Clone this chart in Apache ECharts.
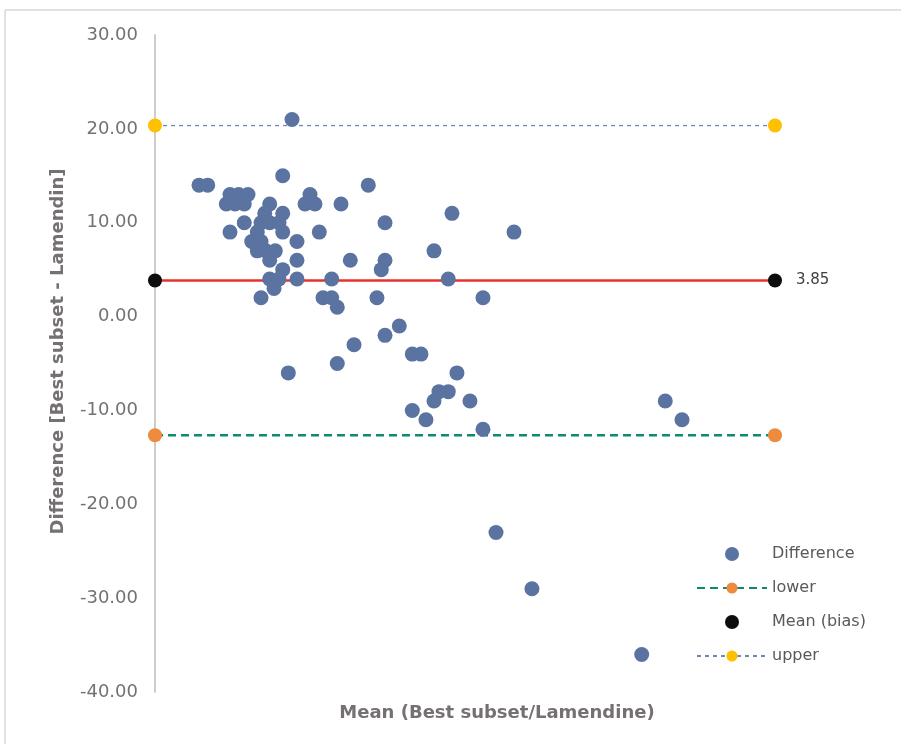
<!DOCTYPE html>
<html>
<head>
<meta charset="utf-8">
<script src="https://cdn.jsdelivr.net/npm/echarts@6/dist/echarts.min.js"></script>
<style>html,body{margin:0;padding:0;background:#fff;}#c{width:901px;height:744px;}</style>
</head>
<body>
<div id="c"></div>
<script>
// Mean of the two methods (arbitrary units along the unlabelled x axis)
var meanX = [22.1,7.1,8.5,20.6,34.4,12.1,13.5,15.0,25.0,11.5,12.9,14.4,18.5,24.2,25.8,30.0,17.7,20.6,47.9,14.4,17.1,18.5,20.0,37.1,12.1,16.5,20.6,26.5,57.9,15.6,17.1,22.9,16.5,17.9,19.4,45.0,18.5,22.9,31.5,37.1,20.6,36.5,18.5,20.0,22.9,28.5,47.3,19.2,17.1,27.1,28.5,35.8,52.9,29.4,39.4,37.1,32.1,41.5,42.9,29.4,21.5,48.7,45.8,47.3,45.0,50.8,82.3,41.5,43.7,85.0,52.9,55.0,60.8,78.5];
// Difference (Best subset - Lamendin)
var diffY = [21,14,14,15,14,13,13,13,13,12,12,12,12,12,12,12,11,11,11,10,10,10,10,10,9,9,9,9,9,8,8,8,7,7,7,7,6,6,6,6,5,5,4,4,4,4,4,3,2,2,2,2,2,1,-1,-2,-3,-4,-4,-5,-6,-6,-8,-8,-9,-9,-9,-10,-11,-11,-12,-23,-29,-36];
var xRange = [0, 100];
var bias = 3.85;
var lowerLoA = -12.65;
var upperLoA = 20.35;
var yTicks = [-40, -30, -20, -10, 0, 10, 20, 30];

var pts = meanX.map(function(x, i){ return [x, diffY[i]]; });
function hline(v){ return [[xRange[0], v],[xRange[1], v]]; }

var chart = echarts.init(document.getElementById('c'), null, {renderer:'canvas'});
var nameFont = '"DejaVu Sans", sans-serif';
chart.setOption({
  animation:false,
  backgroundColor:'#ffffff',
  grid:{left:155, right:126, top:35, bottom:52},
  graphic:[
    {type:'line', shape:{x1:5,y1:10,x2:5,y2:744}, style:{stroke:'#c9c2c2', lineWidth:1}},
    {type:'line', shape:{x1:5,y1:10,x2:901,y2:10}, style:{stroke:'#c9c2c2', lineWidth:1}}
  ],
  xAxis:{
    type:'value', min:xRange[0], max:xRange[1],
    axisLine:{show:false}, axisTick:{show:false}, axisLabel:{show:false}, splitLine:{show:false},
    name:'Mean (Best subset/Lamendine)', nameLocation:'middle', nameGap:12,
    nameTextStyle:{color:'#767171', fontSize:18, fontWeight:'bold', fontFamily:nameFont, padding:[0,0,0,64]}
  },
  yAxis:{
    type:'value', min:yTicks[0], max:yTicks[yTicks.length-1], interval:10,
    axisLine:{show:true, lineStyle:{color:'#d0cccc', width:2}},
    axisTick:{show:false}, splitLine:{show:false},
    axisLabel:{color:'#767171', fontSize:18, margin:17, fontFamily:'"DejaVu Sans", sans-serif',
      formatter:function(v){ return v.toFixed(2); }},
    name:'Difference [Best subset - Lamendin]', nameLocation:'middle', nameGap:88, nameRotate:90,
    nameTextStyle:{color:'#767171', fontSize:18, fontWeight:'bold', fontFamily:nameFont, padding:[0,0,0,24]}
  },
  legend:{
    orient:'vertical', left:691, top:541, itemWidth:70, itemHeight:14, itemGap:18,
    data:['Difference','lower','Mean (bias)','upper'],
    textStyle:{color:'#595959', fontSize:16, fontFamily:'"DejaVu Sans", sans-serif'}
  },
  series:[
    {name:'biasLine', type:'line', data:hline(bias), symbol:'none', silent:true, z:2,
      lineStyle:{color:'#e8302b', width:2.5}},
    {name:'lower', type:'line', data:hline(lowerLoA), symbol:'circle', symbolSize:14, z:3,
      itemStyle:{color:'#ed8b3f'}, lineStyle:{color:'#0e8a6e', width:2.5, type:[8,5]}},
    {name:'upper', type:'line', data:hline(upperLoA), symbol:'circle', symbolSize:14, z:3,
      itemStyle:{color:'#ffc000'}, lineStyle:{color:'#6f86bd', width:1.3, type:[4,4]}},
    {name:'Mean (bias)', type:'scatter', data:hline(bias), symbolSize:14, z:4,
      itemStyle:{color:'#0d0d0d', opacity:1},
      label:{show:true, position:'right', distance:14, color:'#404040', fontSize:15,
        fontFamily:'"DejaVu Sans", sans-serif',
        formatter:function(p){ return p.dataIndex===1 ? bias.toFixed(2) : ''; }}},
    {name:'Difference', type:'scatter', data:pts, symbolSize:15, z:5,
      itemStyle:{color:'#5a73a0', opacity:1}}
  ]
});
</script>
</body>
</html>
